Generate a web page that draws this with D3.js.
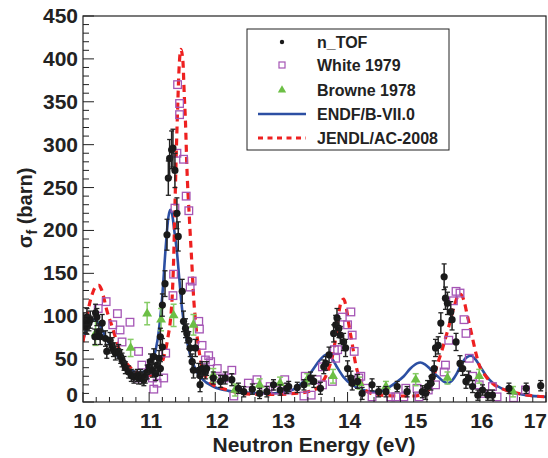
<!DOCTYPE html>
<html>
<head>
<meta charset="utf-8">
<script src="https://cdn.jsdelivr.net/npm/d3@7"></script>
<style>
  body { margin: 0; background: #fff; }
  svg text { font-family: "Liberation Sans", Arial, sans-serif; font-weight: bold; fill: #222; }
</style>
</head>
<body>
<div id="chart"></div>
<script>
// n_TOF : [energy eV, sigma barn, error]
const nTOF = [
  [10.01,94,10],[10.03,90,9],[10.06,99,10],[10.06,88,9],[10.09,92,9],[10.11,96,10],[10.18,76,9],[10.19,104,10],
  [10.21,99,10],[10.24,82,9],[10.26,76,9],[10.29,92,10],[10.34,74,9],[10.36,59,8],[10.41,72,9],[10.44,66,9],
  [10.46,61,8],[10.49,57,8],[10.54,59,8],[10.57,53,8],[10.59,49,8],[10.62,45,8],[10.64,40,7],[10.69,35,7],
  [10.73,31,7],[10.77,29,7],[10.82,31,7],[10.84,28,7],[10.87,31,7],[10.89,28,7],[10.92,26,7],[10.94,29,7],
  [10.97,35,8],[11.0,41,8],[11.02,47,9],[11.05,37,8],[11.07,53,9],[11.10,33,8],[11.12,43,8],[11.15,51,9],
  [11.17,39,8],[11.17,76,10],[11.20,64,10],[11.20,113,13],[11.24,138,15],[11.27,195,18],[11.29,261,20],
  [11.31,284,22],[11.34,294,22],[11.36,296,22],[11.39,270,20],[11.42,220,18],[11.44,193,17],[11.50,129,14],
  [11.52,94,12],[11.55,86,11],[11.57,80,11],[11.60,72,10],[11.62,63,10],[11.65,47,9],[11.67,37,9],[11.70,63,10],
  [11.75,37,8],[11.77,31,8],[11.77,20,8],[11.80,39,8],[11.85,35,8],[11.87,39,8],[11.97,28,7],[12.08,24,7],
  [12.15,28,7],[12.25,26,7],[12.35,16,6],[12.43,12,6],[12.56,15,6],[12.67,10,6],[12.78,12,6],[12.88,20,6],
  [12.98,14,6],[13.08,16,6],[13.11,18,6],[13.24,17,6],[13.34,20,6],[13.44,28,7],[13.49,24,7],[13.59,16,7],
  [13.64,41,8],[13.67,45,8],[13.72,55,9],[13.79,80,10],[13.82,90,11],[13.84,98,11],[13.87,86,11],[13.89,78,10],
  [13.94,70,10],[13.97,63,10],[14.00,39,9],[14.05,28,8],[14.07,22,8],[14.15,24,8],[14.22,10,7],[14.37,20,7],
  [14.47,12,6],[14.58,12,6],[14.75,18,6],[14.90,12,6],[15.13,12,7],[15.18,10,7],[15.21,18,7],[15.26,22,8],
  [15.28,29,8],[15.31,39,9],[15.33,63,10],[15.37,66,10],[15.41,92,12],[15.46,146,15],[15.48,121,13],
  [15.51,115,13],[15.56,105,12],[15.58,96,12],[15.64,70,10],[15.70,45,9],[15.74,39,8],[15.79,24,8],
  [15.83,28,8],[15.89,18,7],[15.97,8,6],[16.04,14,6],[16.12,8,6],[16.19,8,6],[16.44,16,6],[16.70,16,6],[16.92,19,6]
];

// White 1979 : [energy, sigma]
const white1979 = [
  [10.23,109],[10.35,117],[10.45,90],[10.52,103],[10.56,84],[10.59,70],[10.71,93],[10.84,59],[10.82,28],
  [10.89,43],[11.05,28],[11.07,15],[11.12,22],[11.22,28],[11.25,57],[11.36,124],[11.37,149],[11.39,226],
  [11.42,290],[11.43,370],[11.46,348],[11.46,335],[11.52,283],[11.56,240],[11.60,223],[11.62,134],[11.65,141],
  [11.75,94],[11.76,85],[11.80,66],[11.85,49],[11.90,54],[11.93,47],[12.0,28],[12.03,39],[12.13,28],[12.25,37],
  [12.28,7],[12.50,22],[12.63,26],[12.76,14],[12.83,18],[12.91,14],[13.05,26],[13.09,14],[13.34,7],[13.36,30],
  [13.45,8],[13.54,26],[13.62,20],[13.62,41],[13.77,24],[13.80,61],[13.82,51],[13.85,61],[13.92,99],[14.0,90],
  [14.05,105],[14.07,78],[14.10,59],[14.17,28],[14.20,30],[14.27,16],[14.37,6],[14.65,6],[14.73,6],[14.85,6],
  [14.88,16],[15.05,16],[15.08,6],[15.22,14],[15.33,20],[15.46,35],[15.48,43],[15.53,72],[15.60,118],
  [15.64,129],[15.70,127],[15.76,96],[15.79,80],[15.84,51],[15.89,30],[15.99,20],[16.04,10],[16.19,18],
  [16.26,6],[16.51,5],[16.69,14]
];

// Browne 1978 : [energy, sigma, error]
const browne1978 = [
  [10.19,80,14],[10.72,63,10],[10.97,103,13],[11.18,96,13],[11.37,101,13],[11.67,90,12],[11.97,31,8],
  [12.30,14,7],[12.67,20,7],[12.98,22,7],[13.39,26,7],[13.78,30,8],[14.18,22,7],[14.58,18,6],[15.03,26,7],
  [15.51,28,7],[15.99,30,8],[16.50,12,6]
];

// ENDF/B-VII.0 evaluated curve
const endf = [
  [10.0,72],[10.05,84],[10.1,92],[10.17,96],[10.22,94],[10.28,86],[10.35,74],[10.44,63],[10.52,54],[10.6,46],
  [10.7,39],[10.8,35],[10.9,35],[11.0,41],[11.05,48],[11.1,61],[11.15,85],[11.2,125],[11.25,180],[11.29,215],
  [11.32,224],[11.35,218],[11.38,200],[11.42,175],[11.46,140],[11.5,107],[11.55,80],[11.62,55],[11.72,35],
  [11.8,27],[11.97,18],[12.2,13],[12.48,11],[12.8,10],[13.0,11],[13.21,16],[13.36,26],[13.46,36],[13.57,48],
  [13.68,55],[13.76,51],[13.83,42],[13.94,29],[14.05,21],[14.2,15],[14.37,12],[14.47,12],[14.6,16],[14.72,22],
  [14.85,30],[14.95,39],[15.05,45],[15.1,46],[15.17,44],[15.27,37],[15.36,30],[15.45,24],[15.51,22],[15.58,25],
  [15.65,33],[15.72,44],[15.8,52],[15.87,54],[15.93,50],[16.0,42],[16.1,30],[16.2,22],[16.35,15],[16.5,11],
  [16.7,8],[17.0,6]
];

// JENDL/AC-2008 evaluated curve
const jendl = [
  [10.0,70],[10.05,95],[10.1,115],[10.15,128],[10.2,135],[10.24,136],[10.28,131],[10.31,123],[10.36,107],
  [10.44,88],[10.52,68],[10.58,55],[10.64,47],[10.72,40],[10.8,35],[10.9,32],[11.0,31],[11.07,32],[11.12,35],
  [11.17,41],[11.2,47],[11.25,61],[11.29,78],[11.32,94],[11.35,125],[11.37,165],[11.39,228],[11.41,290],
  [11.43,340],[11.45,385],[11.48,411],[11.51,398],[11.53,360],[11.55,325],[11.57,275],[11.61,212],[11.65,155],
  [11.67,125],[11.7,95],[11.75,62],[11.82,35],[11.9,25],[11.97,20],[12.1,16],[12.23,13],[12.4,10],[12.6,9],
  [12.8,9],[13.0,9],[13.2,10],[13.4,12],[13.52,15],[13.59,20],[13.67,30],[13.72,40],[13.77,53],[13.82,75],
  [13.86,100],[13.9,116],[13.94,120],[13.98,110],[14.02,90],[14.07,68],[14.12,45],[14.2,24],[14.32,11],[14.5,8],
  [14.8,7],[15.0,7],[15.1,8],[15.2,12],[15.26,18],[15.33,37],[15.43,61],[15.53,88],[15.61,111],[15.69,126],
  [15.73,124],[15.77,115],[15.81,101],[15.85,88],[15.89,74],[15.94,57],[15.99,43],[16.09,30],[16.22,20],
  [16.35,15],[16.47,12],[16.72,8],[17.0,6]
];

const xTicks = [10, 11, 12, 13, 14, 15, 16, 17];
const yTicks = [0, 50, 100, 150, 200, 250, 300, 350, 400, 450];
const legendLabels = ["n_TOF", "White 1979", "Browne 1978", "ENDF/B-VII.0", "JENDL/AC-2008"];

const W = 548, H = 458;
const pL = 83, pR = 546, pT = 16, pB = 402;

const svg = d3.select("#chart").append("svg")
  .attr("width", W).attr("height", H);

const x = d3.scaleLinear().domain([10, 17]).range([pL, pR]);
const y = d3.scaleLinear().domain([0, 450]).range([pB, pT]);

const blue = "#2c4fa3", red = "#ee2020", purple = "#a555b5", green = "#6cbf45", greenBar = "#86cc66";

svg.append("defs").append("clipPath").attr("id", "clip")
  .append("rect").attr("x", pL).attr("y", pT).attr("width", pR - pL).attr("height", pB - pT);

const plot = svg.append("g").attr("clip-path", "url(#clip)");

// evaluated curves
const line = d3.line().x(d => x(d[0])).y(d => y(d[1])).curve(d3.curveMonotoneX);
plot.append("path").datum(endf).attr("d", line)
  .attr("fill", "none").attr("stroke", blue).attr("stroke-width", 2.6);
plot.append("path").datum(jendl).attr("d", line)
  .attr("fill", "none").attr("stroke", red).attr("stroke-width", 3.2)
  .attr("stroke-dasharray", "7,5");

// White 1979 open squares
plot.selectAll(".white").data(white1979).enter().append("rect")
  .attr("class", "white")
  .attr("x", d => x(d[0]) - 3.8).attr("y", d => y(d[1]) - 3.8)
  .attr("width", 7.6).attr("height", 7.6)
  .attr("fill", "none").attr("stroke", purple).attr("stroke-width", 1.3);

// Browne 1978 triangles with error bars
const br = plot.selectAll(".browne").data(browne1978).enter().append("g").attr("class", "browne");
br.append("line")
  .attr("x1", d => x(d[0])).attr("x2", d => x(d[0]))
  .attr("y1", d => y(d[1] - d[2])).attr("y2", d => y(d[1] + d[2]))
  .attr("stroke", greenBar).attr("stroke-width", 1.5);
[1, -1].forEach(s => {
  br.append("line")
    .attr("x1", d => x(d[0]) - 3).attr("x2", d => x(d[0]) + 3)
    .attr("y1", d => y(d[1] + s * d[2])).attr("y2", d => y(d[1] + s * d[2]))
    .attr("stroke", greenBar).attr("stroke-width", 1.5);
});
br.append("path")
  .attr("transform", d => `translate(${x(d[0])},${y(d[1])})`)
  .attr("d", d3.symbol(d3.symbolTriangle, 42))
  .attr("fill", green);

// n_TOF points with error bars
const nt = plot.selectAll(".ntof").data(nTOF).enter().append("g").attr("class", "ntof");
nt.append("line")
  .attr("x1", d => x(d[0])).attr("x2", d => x(d[0]))
  .attr("y1", d => y(d[1] - d[2])).attr("y2", d => y(d[1] + d[2]))
  .attr("stroke", "#222").attr("stroke-width", 1.5);
[1, -1].forEach(s => {
  nt.append("line")
    .attr("x1", d => x(d[0]) - 2.5).attr("x2", d => x(d[0]) + 2.5)
    .attr("y1", d => y(d[1] + s * d[2])).attr("y2", d => y(d[1] + s * d[2]))
    .attr("stroke", "#222").attr("stroke-width", 1.3);
});
nt.append("circle")
  .attr("cx", d => x(d[0])).attr("cy", d => y(d[1])).attr("r", 3.6)
  .attr("fill", "#1a1a1a");

// frame
svg.append("rect").attr("x", pL).attr("y", pT)
  .attr("width", pR - pL).attr("height", pB - pT)
  .attr("fill", "none").attr("stroke", "#222").attr("stroke-width", 1.2);

// ticks
const xMinor = d3.range(10, 17.001, 0.2);
svg.selectAll(".xt").data(xMinor).enter().append("line")
  .attr("x1", d => x(d)).attr("x2", d => x(d))
  .attr("y1", pB).attr("y2", d => pB - (Math.abs(d - Math.round(d)) < 1e-6 ? 10 : 5))
  .attr("stroke", "#222").attr("stroke-width", 1);
const yMinor = d3.range(0, 451, 10);
svg.selectAll(".yt").data(yMinor).enter().append("line")
  .attr("x1", pL).attr("x2", d => pL + (d % 50 === 0 ? 11 : 6))
  .attr("y1", d => y(d)).attr("y2", d => y(d))
  .attr("stroke", "#222").attr("stroke-width", 1);

// tick labels (last one kept inside the canvas)
svg.selectAll(".xl").data(xTicks).enter().append("text")
  .attr("x", d => d === 17 ? W - 1 : x(d) + 2).attr("y", 428)
  .attr("text-anchor", d => d === 17 ? "end" : "middle").attr("font-size", 21)
  .text(d => d);
svg.selectAll(".yl").data(yTicks).enter().append("text")
  .attr("x", 78).attr("y", d => y(d) + 7 - (d === 0 ? 7 : 0))
  .attr("text-anchor", "end").attr("font-size", 21)
  .text(d => d);

// axis titles
svg.append("text").attr("x", 314).attr("y", 452)
  .attr("text-anchor", "middle").attr("font-size", 21)
  .text("Neutron Energy (eV)");
const yt = svg.append("text")
  .attr("transform", "translate(32,208) rotate(-90)")
  .attr("text-anchor", "middle").attr("font-size", 20);
yt.append("tspan").text("σ");
yt.append("tspan").attr("font-size", 14).attr("dy", 5).text("f");
yt.append("tspan").attr("dy", -5).text(" (barn)");

// legend
const lg = svg.append("g");
lg.append("rect").attr("x", 247).attr("y", 29).attr("width", 202).attr("height", 121)
  .attr("fill", "#fff").attr("stroke", "#222").attr("stroke-width", 1);
const rowY = [42, 65, 90, 114, 138];
legendLabels.forEach((t, i) => {
  lg.append("text").attr("x", 317).attr("y", rowY[i] + 5.5)
    .attr("font-size", 16).text(t);
});
lg.append("circle").attr("cx", 282).attr("cy", rowY[0]).attr("r", 2.2).attr("fill", "#1a1a1a");
lg.append("rect").attr("x", 279).attr("y", rowY[1] - 3).attr("width", 6).attr("height", 6)
  .attr("fill", "none").attr("stroke", purple).attr("stroke-width", 1.2);
lg.append("path").attr("transform", `translate(282,${rowY[2]})`)
  .attr("d", d3.symbol(d3.symbolTriangle, 30)).attr("fill", green);
lg.append("line").attr("x1", 258).attr("x2", 306).attr("y1", rowY[3]).attr("y2", rowY[3])
  .attr("stroke", blue).attr("stroke-width", 2.6);
lg.append("line").attr("x1", 258).attr("x2", 306).attr("y1", rowY[4]).attr("y2", rowY[4])
  .attr("stroke", red).attr("stroke-width", 3).attr("stroke-dasharray", "5,4.5");
</script>
</body>
</html>
